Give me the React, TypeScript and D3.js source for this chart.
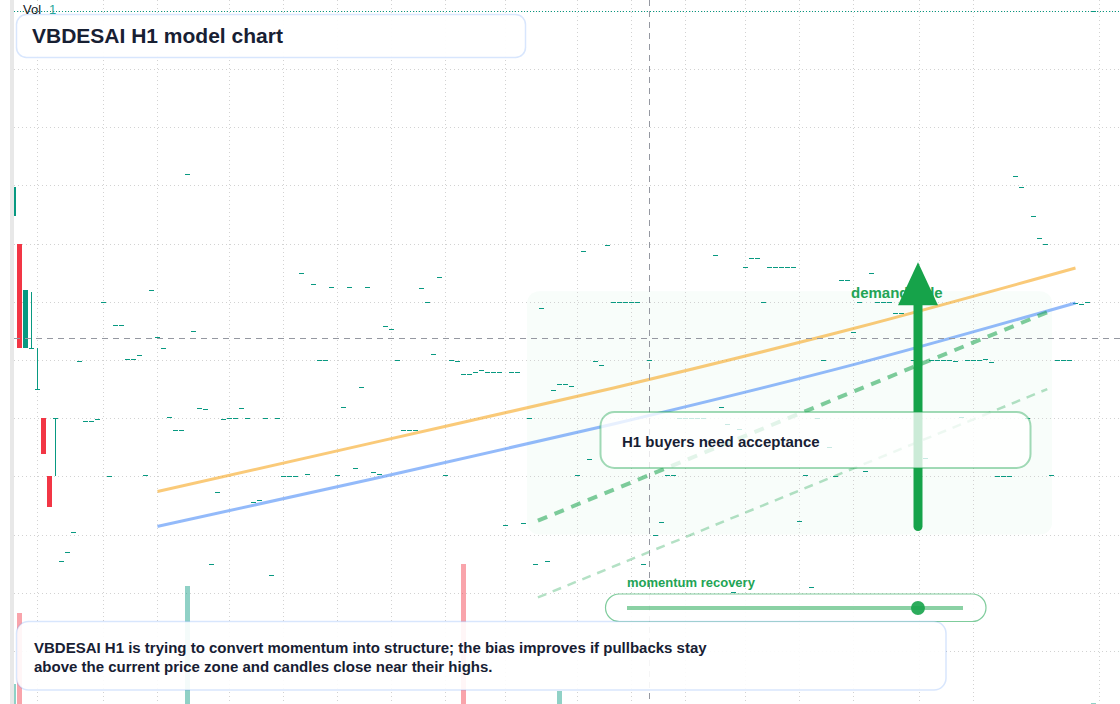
import React from 'react';
import * as d3 from 'd3';

const W = 1120;
const H = 704;

// ---- data ----
// first candles: [open, high, low, close]
const headOHLC: [number, number, number, number][] = [
  [112.4, 114.9, 112.4, 114.9],
  [110.0, 110.0, 101.0, 101.0],
  [101.0, 106.0, 101.0, 106.0],
  [101.0, 105.8, 101.0, 101.0],
  [97.5, 101.0, 97.5, 97.5],
  [95.0, 95.0, 91.9, 91.9],
  [90.0, 90.0, 87.4, 87.4],
  [95.0, 95.0, 90.0, 95.0],
];
// flat candles (open = high = low = close), index 8..180
const flatCloses: number[] = [
  82.7, 83.5, 85.2, 99.9, 94.8, 94.8, 94.9, 105.0, 90.0, 103.0,
  103.0, 100.1, 100.1, 100.4, 90.1, 106.0, 102.0, 101.0, 95.1, 94.0,
  94.0, 116.0, 102.5, 95.9, 95.8, 82.5, 88.7, 94.9, 95.0, 95.0,
  95.9, 95.0, 87.8, 88.0, 95.0, 81.5, 95.0, 90.0, 90.0, 90.0,
  107.5, 90.2, 106.5, 100.0, 100.0, 106.3, 90.1, 96.0, 106.3, 90.7,
  97.7, 106.3, 90.4, 90.2, 102.9, 102.7, 100.0, 94.0, 94.0, 94.0,
  106.2, 105.0, 100.5, 107.1, 90.1, 100.0, 99.9, 98.8, 98.8, 99.0,
  99.1, 99.0, 99.0, 99.0, 85.8, 99.0, 99.0, 86.0, 95.0, 82.5,
  104.5, 82.7, 97.4, 97.9, 97.9, 97.8, 90.1, 109.4, 91.5, 99.9,
  99.6, 109.9, 105.0, 105.0, 105.0, 105.0, 105.0, 82.5, 100.0, 85.0,
  86.1, 90.1, 90.1, 95.0, 95.0, 95.0, 95.0, 95.0, 93.0, 109.0,
  96.0, 94.5, 80.1, 94.1, 108.0, 108.8, 108.8, 105.0, 108.0, 108.0,
  108.0, 108.0, 108.0, 86.2, 90.1, 80.5, 95.0, 100.0, 92.5, 90.0,
  106.9, 106.9, 102.4, 105.0, 90.5, 107.5, 105.0, 105.0, 105.0, 104.0,
  104.0, 105.2, 100.0, 100.0, 91.6, 100.0, 100.0, 100.0, 100.0, 99.9,
  95.1, 100.0, 100.0, 100.0, 100.1, 99.8, 90.0, 90.0, 90.0, 115.8,
  114.9, 95.0, 112.4, 110.5, 110.0, 90.1, 100.0, 100.0, 100.0, 104.9,
  104.8, 105.0, 130.0,
];
const volIdx = [0, 1, 29, 75, 91, 180];
const volValues = [20, 91, 118, 140, 13, 1];
const volUp = [true, false, true, false, true, true];

const timeTicks = [4, 15, 24, 36, 45, 54, 63, 72, 82, 94, 103, 112, 122, 131, 140, 151, 160, 181];
const priceTicks = [75, 80, 85, 90, 95, 100, 105, 110, 115, 120, 125, 130];

const trendIdx = [24, 60, 100, 140, 177];
const orangeVals = [88.7, 92.9, 97.6, 102.7, 107.9];
const blueVals = [85.7, 89.8, 94.5, 99.6, 104.9];

const channelIdx = [87.4, 172.3];
const channelUpper = [86.2, 104.1];
const channelLower = [79.6, 97.5];

const zoneIdx = [85.6, 173.1];
const zonePrice = [85.0, 105.9];

const arrowIdx = 150.75;
const arrowFrom = 85.7;
const arrowTo = 108.4;

const crossIdx = 106;
const crossPrice = 101.9;

const momentumValue = 0.866;

const UP = '#089981';
const DOWN = '#f23645';
const GREEN = '#16a34a';
const TEXT = '#172033';
const FONT = '"Liberation Sans", Arial, Helvetica, sans-serif';

export default function App() {
  const x = d3.scaleLinear().domain([0, 181]).range([13.5, 13.5 + 6 * 181]);
  const y = d3.scaleLinear().domain([70, 130]).range([360 + 30 * 11.64, 360 - 30 * 11.64]);
  const yv = d3.scaleLinear().domain([0, 140]).range([704, 564]);

  const candles = [
    ...headOHLC.map(([o, h, l, c]) => ({ o, h, l, c })),
    ...flatCloses.map((c) => ({ o: c, h: c, l: c, c })),
  ];
  const lastClose = candles[candles.length - 1].c;

  const lineGen = d3
    .line<number>()
    .x((_, i) => x(trendIdx[i]))
    .y((v) => y(v))
    .curve(d3.curveMonotoneX);

  const ax = x(arrowIdx);
  const tipY = y(arrowTo);
  const headH = 43;
  const headW = 20;

  const trackX0 = 627;
  const trackX1 = 963;
  const knobX = trackX0 + (trackX1 - trackX0) * momentumValue;

  return (
    <svg
      width={W}
      height={H}
      style={{ position: 'absolute', left: 0, top: 0, display: 'block' }}
      fontFamily={FONT}
    >
      <defs>
        <clipPath id="plot">
          <rect x={14} y={0} width={W - 14} height={H} />
        </clipPath>
      </defs>
      <rect x={0} y={0} width={W} height={H} fill="#ffffff" />

      {/* zone */}
      <rect
        x={x(zoneIdx[0])}
        y={y(zonePrice[1])}
        width={x(zoneIdx[1]) - x(zoneIdx[0])}
        height={y(zonePrice[0]) - y(zonePrice[1])}
        rx={12}
        fill="rgba(34,197,94,0.03)"
      />

      {/* grid */}
      <g clipPath="url(#plot)">
        {timeTicks.map((t) => (
          <line
            key={'v' + t}
            x1={Math.floor(x(t)) + 0.5}
            x2={Math.floor(x(t)) + 0.5}
            y1={0}
            y2={H}
            stroke="#d2d2d2"
            strokeDasharray="1 3"
          />
        ))}
        {priceTicks.map((p) => (
          <line
            key={'h' + p}
            x1={14}
            x2={W}
            y1={Math.round(y(p)) + 0.5}
            y2={Math.round(y(p)) + 0.5}
            stroke="#d2d2d2"
            strokeDasharray="1 3"
          />
        ))}
      </g>

      {/* volume */}
      <g clipPath="url(#plot)">
        {volIdx.map((vi, k) => {
          const top = yv(volValues[k]);
          if (704 - top < 1) return null;
          return (
            <rect
              key={'vol' + vi}
              x={x(vi) - 2.5}
              y={top}
              width={5}
              height={704 - top}
              fill={volUp[k] ? 'rgba(8,153,129,0.45)' : 'rgba(242,54,69,0.45)'}
            />
          );
        })}
      </g>

      {/* candles */}
      <g clipPath="url(#plot)">
        {candles.map((d, i) => {
          const cx = x(i);
          const col = d.c >= d.o ? UP : DOWN;
          const top = Math.round(y(Math.max(d.o, d.c)));
          const bot = Math.round(y(Math.min(d.o, d.c)));
          const hb = Math.max(1, bot - top);
          const wt = Math.round(y(d.h));
          const wb = Math.round(y(d.l));
          return (
            <g key={'c' + i}>
              {(wt < top || wb > top + hb) && (
                <rect x={Math.floor(cx)} y={wt} width={1} height={Math.max(1, wb - wt)} fill={col} />
              )}
              <rect x={cx - 2.5} y={top} width={5} height={hb} fill={col} />
            </g>
          );
        })}
      </g>

      {/* last price line */}
      <line
        x1={14}
        x2={W}
        y1={Math.round(y(lastClose)) + 0.5}
        y2={Math.round(y(lastClose)) + 0.5}
        stroke={UP}
        strokeDasharray="1 2"
      />

      {/* trend lines */}
      <path d={lineGen(orangeVals) || ''} fill="none" stroke="#f59e0b" strokeOpacity={0.55} strokeWidth={3} />
      <path d={lineGen(blueVals) || ''} fill="none" stroke="#3b82f6" strokeOpacity={0.55} strokeWidth={3} />

      {/* channel dashed lines */}
      <line
        x1={x(channelIdx[0])}
        y1={y(channelUpper[0])}
        x2={x(channelIdx[1])}
        y2={y(channelUpper[1])}
        stroke={GREEN}
        strokeOpacity={0.55}
        strokeWidth={4}
        strokeDasharray="10 8"
      />
      <line
        x1={x(channelIdx[0])}
        y1={y(channelLower[0])}
        x2={x(channelIdx[1])}
        y2={y(channelLower[1])}
        stroke={GREEN}
        strokeOpacity={0.32}
        strokeWidth={2.5}
        strokeDasharray="9 7"
      />

      {/* crosshair */}
      <line x1={Math.floor(x(crossIdx)) + 0.5} x2={Math.floor(x(crossIdx)) + 0.5} y1={0} y2={H} stroke="#9598a1" strokeDasharray="6 5" />
      <line x1={14} x2={W} y1={Math.round(y(crossPrice)) + 0.5} y2={Math.round(y(crossPrice)) + 0.5} stroke="#9598a1" strokeDasharray="6 5" />

      {/* demand label */}
      <text x={851} y={298} fontSize={15} fontWeight={700} fill="#22a455">
        demand side
      </text>

      {/* arrow */}
      <line x1={ax} x2={ax} y1={y(arrowFrom)} y2={tipY + headH - 2} stroke={GREEN} strokeWidth={9} strokeLinecap="round" />
      <path
        d={`M${ax},${tipY} L${ax + headW},${tipY + headH} L${ax - headW},${tipY + headH} Z`}
        fill={GREEN}
      />

      {/* buyers box */}
      <rect x={600.5} y={412} width={430} height={56} rx={14} fill="rgba(255,255,255,0.78)" stroke={GREEN} strokeOpacity={0.4} strokeWidth={2} />
      <text x={622} y={447} fontSize={15} fontWeight={700} fill={TEXT}>
        H1 buyers need acceptance
      </text>

      {/* momentum slider */}
      <text x={627} y={587} fontSize={13} fontWeight={700} fill="#22a455">
        momentum recovery
      </text>
      <rect x={605.5} y={594} width={380.5} height={27.5} rx={13.75} fill="rgba(255,255,255,0.9)" stroke={GREEN} strokeOpacity={0.55} strokeWidth={1.2} />
      <line x1={trackX0} x2={trackX1} y1={608} y2={608} stroke={GREEN} strokeOpacity={0.5} strokeWidth={4} />
      <circle cx={knobX} cy={608} r={7} fill={GREEN} fillOpacity={0.9} />

      {/* left strip */}
      <rect x={10} y={0} width={4} height={H} fill="#e8e8e8" />

      {/* title */}
      <rect x={16.5} y={14.5} width={509} height={43} rx={10} fill="rgba(255,255,255,0.94)" stroke="#3b82f6" strokeOpacity={0.2} strokeWidth={1.5} />
      <text x={32} y={43} fontSize={21} fontWeight={700} fill={TEXT}>
        VBDESAI H1 model chart
      </text>

      {/* bottom note */}
      <rect x={16.5} y={621.5} width={929.5} height={68.5} rx={12} fill="rgba(255,255,255,0.9)" stroke="#3b82f6" strokeOpacity={0.2} strokeWidth={1.5} />
      <text fontSize={15} fontWeight={700} fill={TEXT}>
        <tspan x={34} y={653}>
          VBDESAI H1 is trying to convert momentum into structure; the bias improves if pullbacks stay
        </tspan>
        <tspan x={34} y={672}>
          above the current price zone and candles close near their highs.
        </tspan>
      </text>

      {/* legend */}
      <text x={23} y={13.5} fontSize={13} fill="#131722">
        Vol
      </text>
      <text x={49} y={13.5} fontSize={13} fill="#26a69a">
        {volValues[volValues.length - 1]}
      </text>
    </svg>
  );
}
